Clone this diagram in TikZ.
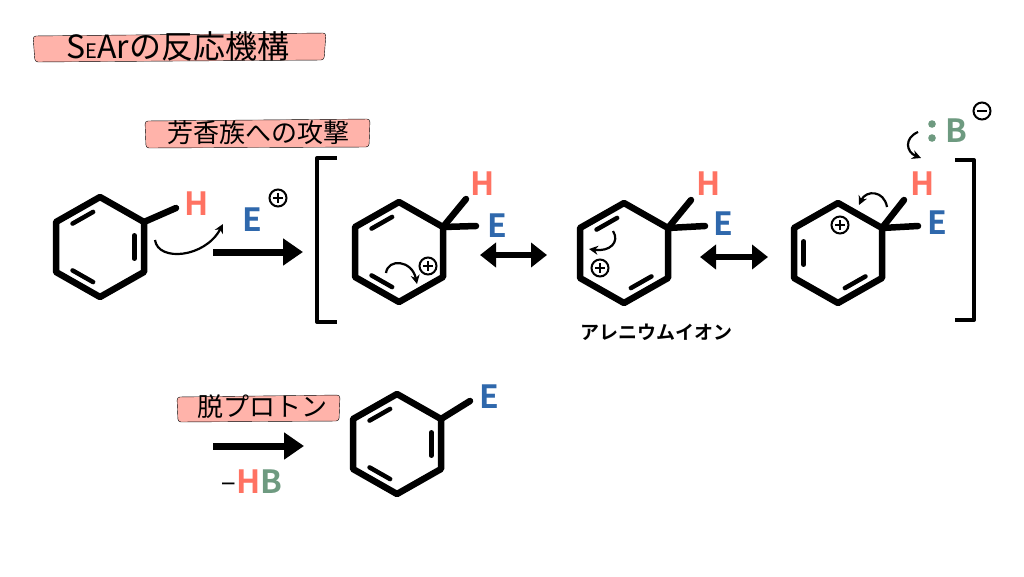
\documentclass[tikz,border=0pt]{standalone}
\usepackage{fontspec}
\setmainfont{Noto Sans CJK JP}[BoldFont={Noto Sans CJK JP Bold}]
\usetikzlibrary{calc,arrows.meta}
\definecolor{hcol}{HTML}{FF7262}
\definecolor{ecol}{HTML}{2F68AC}
\definecolor{bcol}{HTML}{6E9A80}
\definecolor{hl}{HTML}{FFB3AA}
\tikzset{
 bond/.style={line width=6.5pt,line join=round,line cap=round},
 ibond/.style={line width=4.5pt,line cap=round},
 rxn/.style={line width=7pt,-{Triangle[length=20pt,width=26pt]}},
 res/.style={line width=6pt,{Triangle[length=16pt,width=24pt]}-{Triangle[length=16pt,width=24pt]}},
 curly/.style={line width=2.2pt,-{Stealth[length=9pt,width=9pt]}},
 atom/.style={font=\fontsize{32}{32}\selectfont\bfseries,inner sep=0pt},
 lbl/.style={font=\fontsize{26}{26}\selectfont,inner sep=0pt},
 hlbar/.style={fill=hl,rounded corners=3pt},
}
\newcommand\benz[2]{%
 \coordinate (#1) at (#2);
 \coordinate (#1-1) at ($(#1)+(0,-50)$);
 \coordinate (#1-2) at ($(#1)+(44,-25)$);
 \coordinate (#1-3) at ($(#1)+(44,25)$);
 \coordinate (#1-4) at ($(#1)+(0,50)$);
 \coordinate (#1-5) at ($(#1)+(-44,25)$);
 \coordinate (#1-6) at ($(#1)+(-44,-25)$);
 \draw[bond] (#1-1)--(#1-2)--(#1-3)--(#1-4)--(#1-5)--(#1-6)--cycle;}
\newcommand\dbl[3]{\draw[ibond] ($(#1-#2)!0.2!(#1-#3)!0.22!(#1)$) -- ($(#1-#3)!0.2!(#1-#2)!0.22!(#1)$);}
\newcommand\pluscirc[2]{\node[circle,draw,line width=2pt,minimum size=17pt,inner sep=0pt] (#1) at (#2) {};
 \draw[line width=2pt] ($(#1)+(-5,0)$)--($(#1)+(5,0)$) ($(#1)+(0,-5)$)--($(#1)+(0,5)$);}
\begin{document}
\begin{tikzpicture}[x=1pt,y=-1pt]
\useasboundingbox (0,0) rectangle (1024,576);
% title
\draw[hlbar] (33,36) -- (326,33) -- (324,60) -- (35,62) -- cycle;
\node[font=\fontsize{32}{32}\selectfont,inner sep=0pt] (title) at (178,46) {S{\fontsize{20}{20}\selectfont E}Arの反応機構};
\draw[hlbar] (145,121) -- (370,119) -- (369,147) -- (146,148) -- cycle;
\node[lbl] (attack) at (258,133) {芳香族への攻撃};
% benzene 1
\benz{A}{100,247}
\dbl{A}{6}{1}\dbl{A}{2}{3}\dbl{A}{4}{5}
\node[atom,text=hcol] (AH) at (197,204) {H};
\coordinate (AHb) at (176,208);
\draw[bond] (A-2) -- (AHb);
\node[atom,text=ecol] (E1) at (252,220) {E};
\pluscirc{Ep}{278,198}
\coordinate (c1s) at (155,240); \coordinate (c1e) at (223,224);
\draw[curly] (c1s) .. controls (158,262) and (205,258) .. (c1e);
% arrow 1
\coordinate (r1a) at (213,252); \coordinate (r1b) at (303,252);
\draw[rxn] (r1a) -- (r1b);
% left bracket
\coordinate (bl1) at (337,158); \coordinate (bl2) at (337,322);
\draw[line width=4pt,line join=round] (bl1) -- (317,158) -- (317,322) -- (bl2);
% benzene 2
\benz{B}{399,252}
\dbl{B}{6}{1}\dbl{B}{4}{5}
\coordinate (BHb) at (466,199); \coordinate (BEb) at (476,226);
\draw[bond] (B-2) -- (BHb); \draw[bond] (B-2) -- (BEb);
\node[atom,text=hcol] (BH) at (483,184) {H};
\node[atom,text=ecol] (BE) at (497,226) {E};
\pluscirc{Bp}{428,266}
\draw[curly] (386,273) .. controls (388,258) and (412,260) .. (417,284);
% resonance 1
\coordinate (s1a) at (480,255); \coordinate (s1b) at (547,255);
\draw[res] (s1a) -- (s1b);
% benzene 3
\benz{C}{624,253}
\dbl{C}{6}{1}\dbl{C}{3}{4}
\coordinate (CHb) at (691,200); \coordinate (CEb) at (705,226);
\draw[bond] (C-2) -- (CHb); \draw[bond] (C-2) -- (CEb);
\node[atom,text=hcol] (CH) at (709,184) {H};
\node[atom,text=ecol] (CE) at (723,224) {E};
\pluscirc{Cp}{600,268}
\draw[curly] (613,231) .. controls (620,242) and (610,252) .. (589,249);
\node[font=\fontsize{19}{19}\selectfont\bfseries,inner sep=0pt] (arenium) at (656,332) {アレニウムイオン};
% resonance 2
\coordinate (s2a) at (700,257); \coordinate (s2b) at (768,257);
\draw[res] (s2a) -- (s2b);
% benzene 4
\benz{D}{838,253}
\dbl{D}{5}{6}\dbl{D}{3}{4}
\coordinate (DHb) at (904,200); \coordinate (DEb) at (918,226);
\draw[bond] (D-2) -- (DHb); \draw[bond] (D-2) -- (DEb);
\node[atom,text=hcol] (DH) at (923,184) {H};
\node[atom,text=ecol] (DE) at (937,223) {E};
\pluscirc{Dp}{840,225}
\draw[curly] (887,207) .. controls (884,190) and (866,190) .. (859,205);
% base
\node[atom,text=bcol] (DB) at (956,131) {B};
\fill[bcol] (932,124) circle (3.8pt) (932,138) circle (3.8pt);
\node[circle,draw,line width=2pt,minimum size=17pt,inner sep=0pt] (Bm) at (982,111) {};
\draw[line width=2pt] ($(Bm)+(-5,0)$)--($(Bm)+(5,0)$);
\draw[curly] (918,132) .. controls (904,138) and (906,152) .. (921,158);
% right bracket
\coordinate (br1) at (955,160); \coordinate (br2) at (955,320);
\draw[line width=4pt,line join=round] (br1) -- (974,160) -- (974,320) -- (br2);
% deprotonation
\draw[hlbar] (177,397) -- (340,395) -- (339,421) -- (178,422) -- cycle;
\node[lbl] (deprot) at (262,407) {脱プロトン};
\coordinate (r2a) at (213,446); \coordinate (r2b) at (304,446);
\draw[rxn] (r2a) -- (r2b);
\node[atom,inner sep=0pt] (HB) at (252,482) {\textcolor{black}{\fontsize{26}{26}\selectfont\mdseries −}\textcolor{hcol}{H}\textcolor{bcol}{B}};
% product
\benz{P}{397,444}
\dbl{P}{6}{1}\dbl{P}{2}{3}\dbl{P}{4}{5}
\coordinate (PEb) at (470,401);
\draw[bond] (P-2) -- (PEb);
\node[atom,text=ecol] (PE) at (489,397) {E};
\end{tikzpicture}
\end{document}
